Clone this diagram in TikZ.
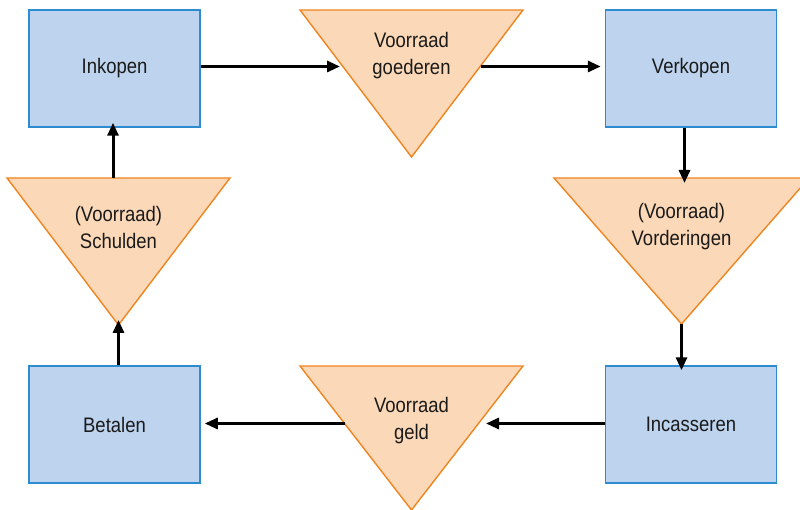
\documentclass[tikz,border=0pt]{standalone}
\usepackage{fontspec}
\setmainfont{Liberation Sans}[FakeStretch=0.88]
\usetikzlibrary{arrows.meta}
\definecolor{boxfill}{HTML}{BDD3EE}
\definecolor{boxline}{HTML}{2E8BD0}
\definecolor{trifill}{HTML}{FBD8B7}
\definecolor{triline}{HTML}{EF8521}
\definecolor{txt}{HTML}{1A1A1A}
\tikzset{
  procbox/.style={draw=boxline, fill=boxfill, line width=1.5pt, minimum width=171pt, minimum height=117pt, inner sep=0pt, text=txt, font=\fontsize{21}{27}\selectfont},
  stocktri/.style={draw=triline, fill=trifill, line width=1.4pt, line join=miter},
  lbl/.style={text=txt, align=center, inner sep=0pt, font=\fontsize{21}{27}\selectfont},
  flow/.style={draw=black, line width=3pt, -{Triangle[length=13pt,width=11pt]}},
}
\begin{document}
\begin{tikzpicture}[x=1pt,y=-1pt]
\useasboundingbox (0,0) rectangle (800,510);
% boxes
\node[procbox] (ink) at (114.5,68.5) {Inkopen};
\node[procbox] (ver) at (691,68.5) {Verkopen};
\node[procbox] (bet) at (114.5,424.5) {Betalen};
\node[procbox] (inc) at (691,424.5) {Incasseren};
% triangles
\draw[stocktri] (300,10) -- (523,10) -- (411.5,157) -- cycle;
\draw[stocktri] (554,178) -- (809,178) -- (681.5,324) -- cycle;
\draw[stocktri] (7,178) -- (230,178) -- (118.5,325) -- cycle;
\draw[stocktri] (300,366) -- (523,366) -- (411.5,510) -- cycle;
\node[lbl] (goe) at (411.5,56) {Voorraad\\goederen};
\node[lbl] (vor) at (681.5,227) {(Voorraad)\\Vorderingen};
\node[lbl] (sch) at (118.5,227) {(Voorraad)\\Schulden};
\node[lbl] (gel) at (411.5,421) {Voorraad\\geld};
% anchor points on triangle edges
\coordinate (goeL) at (340,66.5);
\coordinate (goeR) at (481,66.5);
\coordinate (vorT) at (684.5,178);
\coordinate (vorB) at (681.5,324);
\coordinate (gelR) at (486,423.5);
\coordinate (gelL) at (345,423.5);
\coordinate (schB) at (118.5,325);
\coordinate (schT) at (113,178);
% connectors
\draw[flow] (ink.east |- goeL) -- (goeL);
\draw[flow] (goeR) -- ([xshift=-4pt]ver.west |- goeR);
\draw[flow] (ver.south -| vorT) -- ([yshift=-5pt]vorT);
\draw[flow] (vorB) -- ([yshift=-5pt]inc.north -| vorB);
\draw[flow] (inc.west |- gelR) -- (gelR);
\draw[flow] (gelL) -- ([xshift=4pt]bet.east |- gelL);
\draw[flow] (bet.north -| schB) -- ([yshift=5pt]schB);
\draw[flow] (schT) -- ([yshift=5pt]ink.south -| schT);
\end{tikzpicture}
\end{document}
